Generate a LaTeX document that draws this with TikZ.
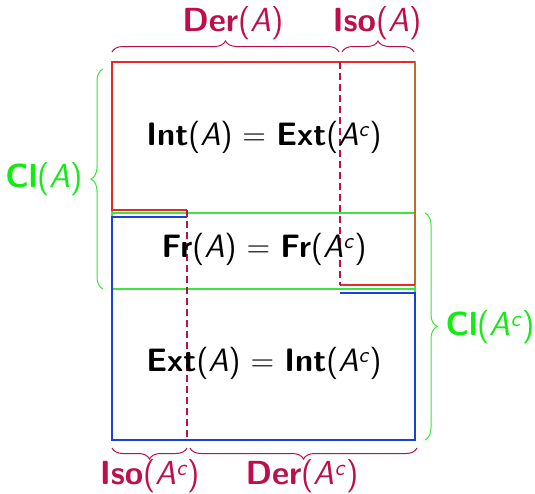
\documentclass[tikz,border=0pt]{standalone}
\usepackage{fontspec}
\usetikzlibrary{decorations.pathreplacing}
\definecolor{crim}{RGB}{190,15,75}
\definecolor{lgreen}{RGB}{20,235,20}
\definecolor{lnred}{RGB}{235,40,40}
\definecolor{lnblue}{RGB}{25,65,215}
\definecolor{lngreen}{RGB}{60,230,60}
\definecolor{lnorange}{RGB}{190,110,40}
\newcommand{\Ac}{\textit{A}\textsuperscript{\textit{c}}}
\begin{document}
\begin{tikzpicture}[x=1pt,y=-1pt,
  lbl/.style={font=\sffamily\fontsize{33.4}{38}\selectfont},
  mid/.style={font=\sffamily\fontsize{32.4}{38}\selectfont},
  crimlbl/.style={lbl,text=crim},
  greenlbl/.style={lbl,text=lgreen},
  bracecrim/.style={draw=crim,line width=1pt,decorate,decoration={brace,amplitude=11pt}},
  bracegreen/.style={draw=lngreen,line width=1pt,decorate,decoration={brace,amplitude=12pt}},
  redline/.style={draw=lnred,line width=1.2pt},
  blueline/.style={draw=lnblue,line width=1.2pt},
  greenline/.style={draw=lngreen,line width=1.1pt},
  dashline/.style={draw=crim,line width=1.1pt,dash pattern=on 7pt off 4pt}]
\useasboundingbox (0,0) rectangle (535,493);
% green closures
\draw[greenline] (112,62) rectangle (415,289);
\draw[greenline] (112,213) rectangle (415,440);
% red A
\draw[redline] (187,210) -- (112,210) -- (112,62) -- (415,62);
\draw[draw=lnorange,line width=1.2pt] (415,62) -- (415,285);
\draw[redline] (415,285) -- (340,285);
% blue A^c
\draw[blueline] (187,217) -- (112,217) -- (112,440) -- (415,440) -- (415,293) -- (340,293);
% dashed lines
\coordinate (d1a) at (340,62); \coordinate (d1b) at (340,285);
\coordinate (d2a) at (187,210); \coordinate (d2b) at (187,440);
\draw[dashline] (d1a) -- (d1b);
\draw[dashline] (d2a) -- (d2b);
% inner texts
\node[mid] (int) at (264,137) {\textbf{Int}(\textit{A}) = \textbf{Ext}(\Ac)};
\node[mid] (fr) at (264,249) {\textbf{Fr}(\textit{A}) = \textbf{Fr}(\Ac)};
\node[mid] (ext) at (264,363) {\textbf{Ext}(\textit{A}) = \textbf{Int}(\Ac)};
% braces
\coordinate (t1) at (112,52); \coordinate (t2) at (339,52);
\coordinate (t3) at (342,52); \coordinate (t4) at (414,52);
\draw[bracecrim] (t1) -- (t2);
\draw[bracecrim] (t3) -- (t4);
\coordinate (b1) at (187,448); \coordinate (b2) at (112,448);
\coordinate (b3) at (417,448); \coordinate (b4) at (190,448);
\draw[bracecrim] (b1) -- (b2);
\draw[bracecrim] (b3) -- (b4);
\coordinate (l1) at (103,289); \coordinate (l2) at (103,69);
\draw[bracegreen] (l1) -- (l2);
\coordinate (r1) at (425,213); \coordinate (r2) at (425,440);
\draw[bracegreen] (r1) -- (r2);
% labels
\node[crimlbl] (derA) at (233,23) {\textbf{Der}(\textit{A})};
\node[crimlbl] (isoA) at (377,23) {\textbf{Iso}(\textit{A})};
\node[crimlbl] (isoAc) at (150,476) {\textbf{Iso}(\Ac)};
\node[crimlbl] (derAc) at (302,476) {\textbf{Der}(\Ac)};
\node[greenlbl] (clA) at (44,179) {\textbf{Cl}(\textit{A})};
\node[greenlbl] (clAc) at (490,327) {\textbf{Cl}(\Ac)};
\end{tikzpicture}
\end{document}
